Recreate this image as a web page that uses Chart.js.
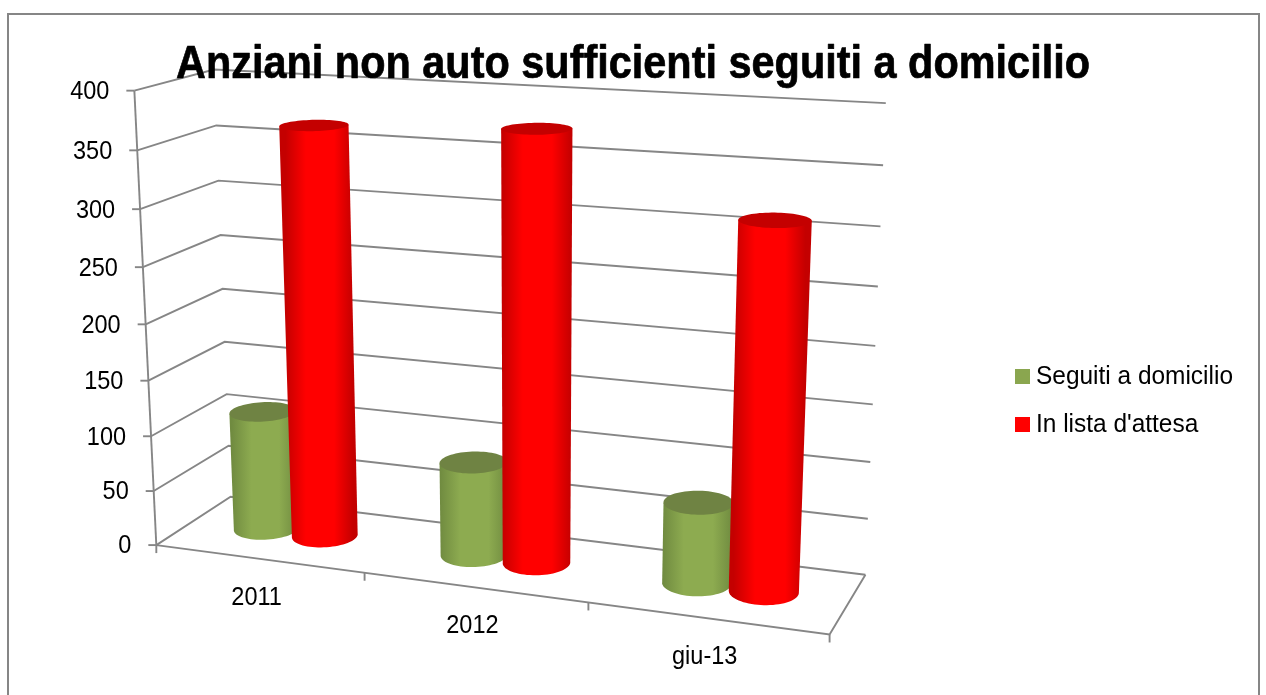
<!DOCTYPE html>
<html><head><meta charset="utf-8">
<style>html,body{margin:0;padding:0;background:#fff}#w{width:1266px;height:695px;position:relative}</style>
<script src="https://cdn.jsdelivr.net/npm/chart.js@4"></script>
</head><body><div id="w"><canvas id="c"></canvas></div>
<script>
const chartTitle = "Anziani non auto sufficienti seguiti a domicilio";
const categories = ["2011", "2012", "giu-13"];
const seguiti = [109, 84, 71];
const inLista = [367, 375, 313];
const seriesNames = ["Seguiti a domicilio", "In lista d'attesa"];
const axisMax = 400, axisStep = 50;

const LINE = "#868686";
const shades = [
  {swatch:"#8aa64f", edge:"#708b40", mid:"#8dab50", top:"#6f8343"},
  {swatch:"#ff0000", edge:"#c40000", mid:"#ff0000", top:"#c40000"}
];

// Camera calibration: (u along categories, v along values, d into depth) -> screen
const calib = [
  [0,0,0,156,545],[0,1,0,135,92],[0,0,1,232,497],[0,1,1,214,69],
  [1,0,1,865,575],[1,1,1,886,103],[1,0,0,830,634],
  [1/3,0,0,365,573],[2/3,0,0,588,603],
  [0,.75,1,218,181],[0,.25,1,226,394],[1,.25,1,870,462],[1,.5,1,875,345],[1,.75,1,881,227],
  [0,.5,0,145,322],[0,.25,0,151,437]
];
function solveCamera(pts){
  const n=11, A=Array.from({length:n},()=>new Array(n+1).fill(0));
  const add=(r,b)=>{for(let i=0;i<n;i++){for(let j=0;j<n;j++)A[i][j]+=r[i]*r[j];A[i][n]+=r[i]*b;}};
  for(const [u,v,d,x,y] of pts){
    add([u,v,d,1,0,0,0,0,-x*u,-x*v,-x*d],x);
    add([0,0,0,0,u,v,d,1,-y*u,-y*v,-y*d],y);
  }
  for(let i=0;i<n;i++){
    let p=i;for(let k=i+1;k<n;k++)if(Math.abs(A[k][i])>Math.abs(A[p][i]))p=k;
    [A[i],A[p]]=[A[p],A[i]];
    for(let k=0;k<n;k++){if(k===i)continue;const f=A[k][i]/A[i][i];for(let j=i;j<=n;j++)A[k][j]-=f*A[i][j];}
  }
  return A.map((r,i)=>r[n]/r[i]);
}
const cam=solveCamera(calib);
function P(u,v,d){
  const w=cam[8]*u+cam[9]*v+cam[10]*d+1;
  return {x:(cam[0]*u+cam[1]*v+cam[2]*d+cam[3])/w, y:(cam[4]*u+cam[5]*v+cam[6]*d+cam[7])/w};
}
function poly(ctx,pts){ctx.beginPath();pts.forEach((p,i)=>i?ctx.lineTo(p.x,p.y):ctx.moveTo(p.x,p.y));ctx.stroke();}
function label(ctx,s,x,y,hs){ctx.save();ctx.translate(x,y);ctx.scale(hs,1);ctx.fillText(s,0,0);ctx.restore();}

const DEPTH_C=.52, DEPTH_R=.22;
function cylinder(ctx,uc,ru,v,sh){
  const N=72, ring=vv=>{const a=[];for(let i=0;i<N;i++){const t=i/N*2*Math.PI;a.push(P(uc+ru*Math.cos(t),vv,DEPTH_C+DEPTH_R*Math.sin(t)));}return a;};
  const base=ring(0), top=ring(v);
  const ext=r=>{let l=0,h=0;r.forEach((p,i)=>{if(p.x<r[l].x)l=i;if(p.x>r[h].x)h=i;});return [l,h];};
  const [bl,br]=ext(base), [tl,tr]=ext(top);
  const a1=[],a2=[];
  for(let i=bl;;i=(i+1)%N){a1.push(base[i]);if(i===br)break;}
  for(let i=bl;;i=(i-1+N)%N){a2.push(base[i]);if(i===br)break;}
  const mean=a=>a.reduce((s,p)=>s+p.y,0)/a.length;
  const lower=mean(a1)>mean(a2)?a1:a2;
  const xL=(base[bl].x+top[tl].x)/2,xR=(base[br].x+top[tr].x)/2;
  const g=ctx.createLinearGradient(xL,0,xR,0);
  g.addColorStop(0,sh.edge);g.addColorStop(.3,sh.mid);g.addColorStop(.72,sh.mid);g.addColorStop(1,sh.edge);
  ctx.fillStyle=g;
  ctx.beginPath();ctx.moveTo(top[tl].x,top[tl].y);
  lower.forEach(p=>ctx.lineTo(p.x,p.y));
  ctx.lineTo(top[tr].x,top[tr].y);ctx.closePath();ctx.fill();
  ctx.fillStyle=sh.top;ctx.beginPath();
  top.forEach((p,i)=>i?ctx.lineTo(p.x,p.y):ctx.moveTo(p.x,p.y));ctx.closePath();ctx.fill();
}

// Bars are painted by the scene plugin so the red series stays in front.
Chart.BarElement.prototype.draw=function(){};

const scene={
  id:"scene",
  beforeDatasetsDraw(chart){
    const ctx=chart.ctx,a=chart.chartArea,ys=chart.scales.y,xs=chart.scales.x;
    const vOf=px=>(a.bottom-px)/(a.bottom-a.top);
    ctx.save();
    ctx.fillStyle="#fff";ctx.fillRect(0,0,chart.width,chart.height);
    ctx.strokeStyle=LINE;ctx.lineWidth=2;ctx.strokeRect(8,14,1251,700);
    ctx.lineWidth=1.9;
    ys.ticks.forEach(t=>{
      const v=vOf(ys.getPixelForValue(t.value));
      poly(ctx,[P(0,v,0),P(0,v,1),P(1,v,1)]);
      const f=P(0,v,0);
      poly(ctx,[{x:f.x-8,y:f.y},f]);
    });
    poly(ctx,[P(0,0,0),P(0,1,0)]);
    poly(ctx,[P(0,0,0),P(1,0,0),P(1,0,1)]);
    for(let i=0;i<=categories.length;i++){
      const f=P(i/categories.length,0,0);
      poly(ctx,[f,{x:f.x,y:f.y+8}]);
    }
    ctx.fillStyle="#000";ctx.font="25px 'Liberation Sans'";ctx.textBaseline="middle";
    ctx.textAlign="right";
    ys.ticks.forEach(t=>{
      const f=P(0,vOf(ys.getPixelForValue(t.value)),0);
      label(ctx,String(t.value),f.x-25,f.y+1.5,.94);
    });
    ctx.textAlign="center";
    categories.forEach((c,i)=>{
      const u=(xs.getPixelForTick(i)-a.left)/(a.right-a.left);
      const f=P(u,0,0);
      label(ctx,xs.getLabelForValue(i),f.x-2,f.y+39,.94);
    });
    ctx.restore();
  },
  afterDatasetsDraw(chart){
    const ctx=chart.ctx,a=chart.chartArea,W=a.right-a.left,H=a.bottom-a.top;
    ctx.save();
    categories.forEach((c,i)=>{
      chart.data.datasets.forEach((ds,k)=>{
        const el=chart.getDatasetMeta(k).data[i];
        const {x,y,base,width}=el.getProps(["x","y","base","width"],true);
        cylinder(ctx,(x-a.left)/W,width/2/W,(base-y)/H,shades[k]);
      });
    });
    // title
    ctx.fillStyle="#000";ctx.strokeStyle="#000";ctx.lineWidth=.7;ctx.lineJoin="round";
    ctx.font="bold 46px 'Liberation Sans'";ctx.textAlign="left";ctx.textBaseline="alphabetic";
    const tw=ctx.measureText(chartTitle).width;
    ctx.save();ctx.translate(176,78);ctx.scale(914/tw,1);ctx.fillText(chartTitle,0,0);ctx.strokeText(chartTitle,0,0);ctx.restore();
    // legend
    ctx.font="26px 'Liberation Sans'";ctx.textBaseline="middle";
    chart.data.datasets.forEach((ds,k)=>{
      const y=376.5+k*48;
      ctx.fillStyle=shades[k].swatch;ctx.fillRect(1015,y-7.5,15,15);
      ctx.fillStyle="#000";label(ctx,ds.label,1036,y,.94);
    });
    ctx.restore();
  }
};

new Chart(document.getElementById("c"),{
  type:"bar",
  data:{labels:categories,datasets:[
    {label:seriesNames[0],data:seguiti,backgroundColor:shades[0].swatch,categoryPercentage:.575,barPercentage:1},
    {label:seriesNames[1],data:inLista,backgroundColor:shades[1].swatch,categoryPercentage:.575,barPercentage:1}
  ]},
  options:{
    responsive:true,maintainAspectRatio:false,animation:false,
    layout:{padding:{left:160,right:400,top:90,bottom:130}},
    plugins:{legend:{display:false},title:{display:false},tooltip:{enabled:false}},
    scales:{
      x:{grid:{display:false},border:{display:false},ticks:{display:false}},
      y:{min:0,max:axisMax,grid:{display:false},border:{display:false},ticks:{display:false,stepSize:axisStep}}
    }
  },
  plugins:[scene]
});
</script></body></html>
